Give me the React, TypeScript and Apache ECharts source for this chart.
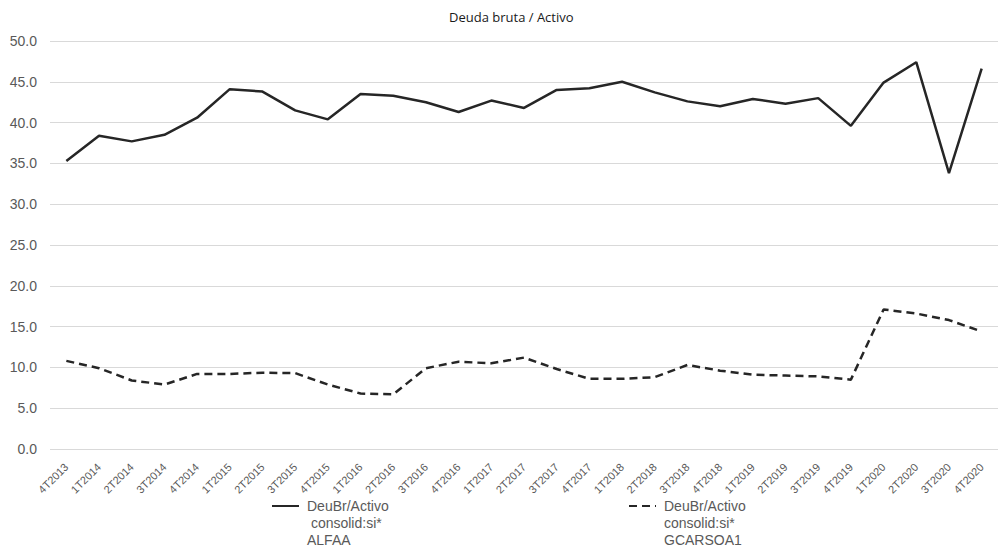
import React, { useEffect, useRef } from "react";
import * as echarts from "echarts";

const categories = [
  "4T2013", "1T2014", "2T2014", "3T2014", "4T2014", "1T2015", "2T2015", "3T2015", "4T2015",
  "1T2016", "2T2016", "3T2016", "4T2016", "1T2017", "2T2017", "3T2017", "4T2017",
  "1T2018", "2T2018", "3T2018", "4T2018", "1T2019", "2T2019", "3T2019", "4T2019",
  "1T2020", "2T2020", "3T2020", "4T2020",
];

const alfaa = [
  35.3, 38.4, 37.7, 38.5, 40.6, 44.1, 43.8, 41.5, 40.4,
  43.5, 43.3, 42.5, 41.3, 42.7, 41.8, 44.0, 44.2,
  45.0, 43.7, 42.6, 42.0, 42.9, 42.3, 43.0, 39.6,
  44.9, 47.4, 33.8, 46.6,
];

const gcarsoa1 = [
  10.8, 9.9, 8.4, 7.9, 9.2, 9.2, 9.35, 9.3, 7.9,
  6.8, 6.7, 9.9, 10.7, 10.5, 11.2, 9.8, 8.6,
  8.6, 8.8, 10.3, 9.6, 9.1, 9.0, 8.9, 8.5,
  17.1, 16.6, 15.8, 14.4,
];

const yTicks = { min: 0, max: 50, interval: 5 };

const nameA = "DeuBr/Activo\n consolid:si*\nALFAA";
const nameB = "DeuBr/Activo\nconsolid:si*\nGCARSOA1";

export default function App() {
  const ref = useRef<HTMLDivElement>(null);
  useEffect(() => {
    if (!ref.current) return;
    const chart = echarts.init(ref.current, undefined, { renderer: "svg" });
    const lh = 17;
    const legendText = {
      color: "#595959",
      fontSize: 14,
      fontFamily: "Liberation Sans",
      lineHeight: lh,
      padding: [0, 0, 0, 3],
    };
    const legendCommon = {
      top: 506 - 2.5 * lh,
      padding: 0,
      itemWidth: 27,
      itemHeight: 0.1,
      formatter: (n: string) => "\n\n" + n,
      textStyle: legendText,
    };
    chart.setOption({
      animation: false,
      backgroundColor: "#ffffff",
      title: {
        text: "Deuda bruta / Activo",
        left: 444,
        top: 5,
        textStyle: { fontFamily: "Open Sans", fontSize: 13, fontWeight: "normal", color: "#1a1a1a" },
      },
      grid: { left: 50, right: -3, top: 41, bottom: 99, containLabel: false },
      legend: [
        { ...legendCommon, data: [nameA], left: 271 },
        { ...legendCommon, data: [nameB], left: 628 },
      ],
      xAxis: {
        type: "category",
        data: categories,
        boundaryGap: true,
        axisLine: { show: false },
        axisTick: { show: false },
        axisLabel: {
          rotate: 45,
          interval: 0,
          margin: 16,
          color: "#595959",
          fontSize: 11,
          fontFamily: "Liberation Sans",
        },
      },
      yAxis: {
        type: "value",
        min: yTicks.min,
        max: yTicks.max,
        interval: yTicks.interval,
        axisLine: { show: false },
        axisTick: { show: false },
        splitLine: { lineStyle: { color: "#d9d9d9", width: 1.2 } },
        axisLabel: {
          formatter: (v: number) => v.toFixed(1),
          color: "#595959",
          fontSize: 14,
          fontFamily: "Liberation Sans",
          margin: 13,
        },
      },
      series: [
        {
          name: nameA,
          type: "line",
          data: alfaa,
          symbol: "none",
          lineStyle: { color: "#262626", width: 2.5, type: "solid" },
          itemStyle: { color: "#262626" },
        },
        {
          name: nameB,
          type: "line",
          data: gcarsoa1,
          symbol: "none",
          lineStyle: { color: "#262626", width: 2.5, type: [8, 5] },
          itemStyle: { color: "#262626" },
        },
      ],
    });
    return () => chart.dispose();
  }, []);
  return (
    <div
      ref={ref}
      style={{ position: "absolute", left: 0, top: 0, width: 998, height: 548 }}
    />
  );
}
